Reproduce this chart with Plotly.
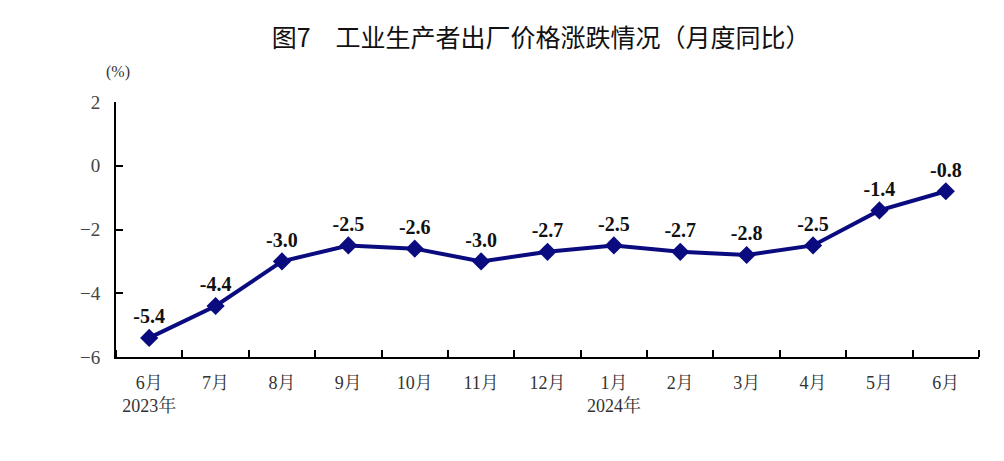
import plotly.graph_objects as go

months = ["6月", "7月", "8月", "9月", "10月", "11月", "12月", "1月", "2月", "3月", "4月", "5月", "6月"]
tick_labels = ["6月<br>2023年", "7月", "8月", "9月", "10月", "11月", "12月", "1月<br>2024年", "2月", "3月", "4月", "5月", "6月"]
ppi_yoy = [-5.4, -4.4, -3.0, -2.5, -2.6, -3.0, -2.7, -2.5, -2.7, -2.8, -2.5, -1.4, -0.8]
y_ticks = [2, 0, -2, -4, -6]

xpos = list(range(len(months)))
serif = "Liberation Serif, Times New Roman, Noto Serif CJK SC, Noto Sans CJK SC, serif"

fig = go.Figure()
fig.add_trace(go.Scatter(
    x=xpos, y=ppi_yoy,
    mode="lines+markers+text",
    line=dict(color="#0b0b80", width=4),
    marker=dict(symbol="diamond", size=14, color="#0b0b80"),
    text=[f"{v:.1f}" for v in ppi_yoy],
    textposition="top center",
    textfont=dict(family=serif, size=20, color="#111111", weight="bold"),
    cliponaxis=False,
    hoverinfo="skip",
))

fig.update_layout(
    width=1004, height=461,
    margin=dict(l=108, r=33, t=94, b=112),
    paper_bgcolor="white", plot_bgcolor="white",
    showlegend=False,
    title=dict(text="图7　工业生产者出厂价格涨跌情况（月度同比）",
               x=0.531, xanchor="center", y=0.935, yanchor="middle",
               font=dict(family="Noto Sans CJK SC", size=25, color="#111111")),
    annotations=[dict(text="(%)", xref="paper", yref="paper", x=0.0185, y=1.118,
                      xanchor="right", yanchor="middle", showarrow=False,
                      font=dict(family=serif, size=16, color="#333333"))],
)

fig.update_xaxes(
    range=[-0.5, 12.5],
    tickvals=xpos, ticktext=tick_labels,
    ticks="", showgrid=False, zeroline=False,
    showline=True, linecolor="#000000", linewidth=2,
    tickfont=dict(family=serif, size=18, color="#333333"),
    ticklabelstandoff=8,
    minor=dict(tickvals=[i + 0.5 for i in range(-1, 13)], ticks="inside",
               ticklen=7, tickwidth=2, tickcolor="#000000", showgrid=False),
)
fig.update_yaxes(
    range=[-6, 2],
    tickvals=y_ticks,
    ticks="inside", ticklen=7, tickwidth=2, tickcolor="#000000",
    showgrid=False, zeroline=False,
    showline=True, linecolor="#000000", linewidth=2,
    tickfont=dict(family=serif, size=19, color="#444444"),
    ticklabelstandoff=10,
)

fig.write_html("out.html")
